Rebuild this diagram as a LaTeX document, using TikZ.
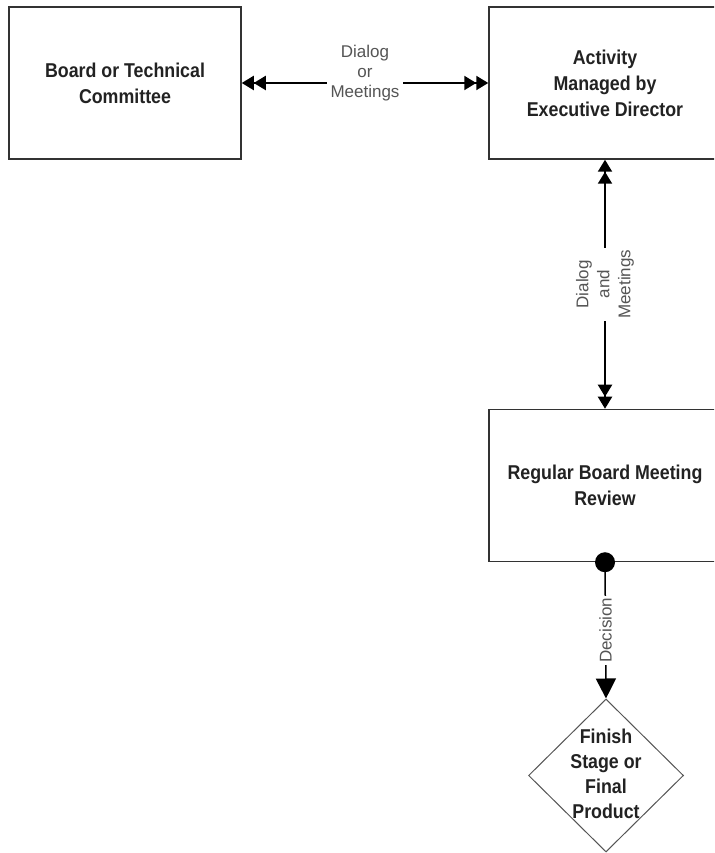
\documentclass[tikz,border=0pt]{standalone}
\usepackage{fontspec}
\setmainfont{Liberation Sans}
\newfontfamily\boxfont[FakeStretch=0.89]{Liberation Sans Bold}
\usetikzlibrary{arrows.meta,shapes.geometric}
\definecolor{boxline}{HTML}{333333}
\definecolor{boxtext}{HTML}{222222}
\definecolor{lbltext}{HTML}{555555}
\definecolor{dialine}{HTML}{555555}
\tikzset{
  procbox/.style={draw=boxline, line width=1.5pt, minimum width=232pt, minimum height=152pt,
    inner sep=0pt, align=center, text=boxtext, font=\boxfont\fontsize{20pt}{26pt}\selectfont},
  diatext/.style={inner sep=0pt, align=center, text=boxtext, font=\boxfont\fontsize{20pt}{25pt}\selectfont},
  decbox/.style={diamond, draw=dialine, line width=1pt, minimum width=155pt, minimum height=153pt, inner sep=0pt},
  dialogline/.style={line width=2pt, black,
    arrows={Triangle[length=12pt,width=14pt] Triangle[length=12pt,width=14pt]-Triangle[length=12pt,width=14pt] Triangle[length=12pt,width=14pt]}},
  decisionline/.style={line width=1.5pt, black, arrows={-Triangle[length=20pt,width=20pt]}},
  lbl/.style={fill=white, inner xsep=3.5pt, inner ysep=2pt, align=center, text=lbltext, font=\fontsize{17pt}{20.3pt}\selectfont},
  vlbl/.style={fill=white, inner sep=2pt, align=center, text=lbltext, rotate=90, font=\fontsize{17pt}{21pt}\selectfont},
  dotnode/.style={circle, fill=black, minimum size=20pt, inner sep=0pt}
}
\begin{document}
\begin{tikzpicture}[x=1pt,y=1pt]
\useasboundingbox (0,0) rectangle (714,853);
\clip (0,0) rectangle (714,853);
\node[procbox] (b1) at (125,770) {Board or Technical\\Committee};
\node[procbox] (b2) at (605,770) {Activity\\Managed by\\Executive Director};
\node[procbox] (b3) at (605,367.5) {Regular Board Meeting\\Review};
\node[decbox] (dia) at (606,77.5) {};
\node[diatext] (dtxt) at ([yshift=1.5pt]dia.center) {Finish\\Stage or\\Final\\Product};
\draw[dialogline] (b1.east) -- node[lbl, yshift=9.7pt] (l1) {Dialog\\or\\Meetings} (b2.west);
\draw[dialogline] (b2.south) -- node[vlbl] (l2) {Dialog\\and\\Meetings} (b3.north);
\node[dotnode] (dot) at (b3.south) {};
\draw[decisionline] (dot.center) -- node[vlbl] (l3) {Decision} (dia.north);
\end{tikzpicture}
\end{document}
